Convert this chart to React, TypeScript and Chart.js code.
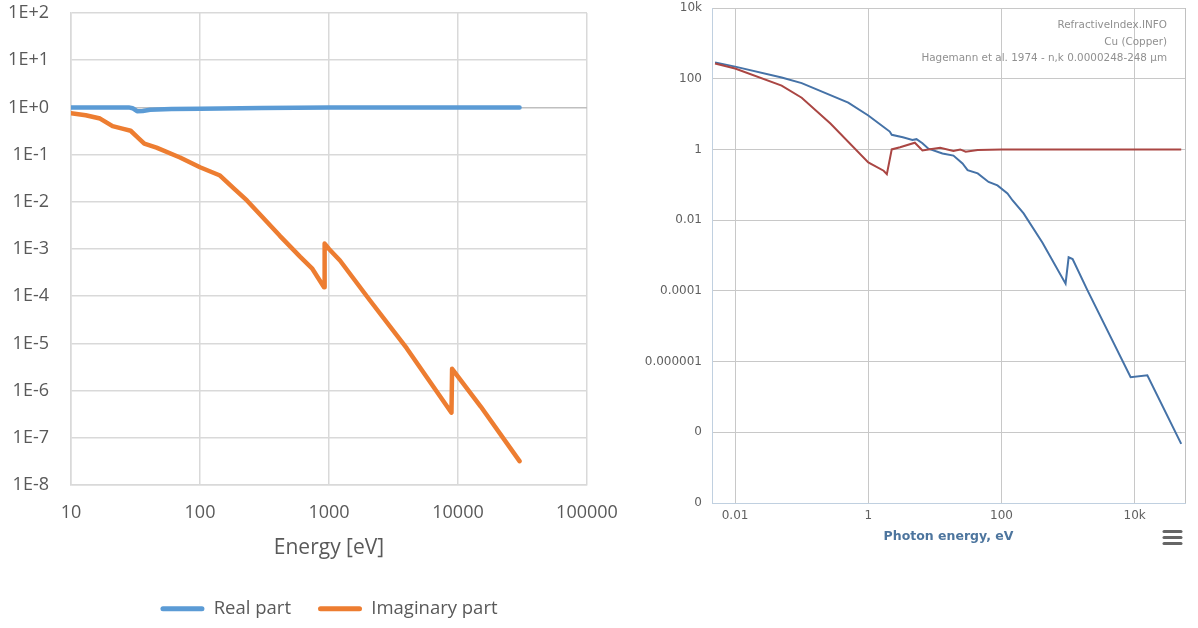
import React, { useEffect, useRef } from "react";
import { Chart, registerables } from "chart.js";

Chart.register(...registerables);

// ---------- Left chart (Excel style) ----------
const leftXTicks = [10, 100, 1000, 10000, 100000];
const leftXTickLabels = ["10", "100", "1000", "10000", "100000"];
const leftYTicks = [1e2, 1e1, 1e0, 1e-1, 1e-2, 1e-3, 1e-4, 1e-5, 1e-6, 1e-7, 1e-8];
const leftYTickLabels = ["1E+2", "1E+1", "1E+0", "1E-1", "1E-2", "1E-3", "1E-4", "1E-5", "1E-6", "1E-7", "1E-8"];

const realEnergy = [10, 20, 28, 30, 32.5, 36, 41, 60, 100, 300, 1000, 30000];
const realValues = [1.0, 1.0, 1.0, 0.96, 0.83, 0.84, 0.89, 0.92, 0.94, 0.97, 0.99, 1.0];

const imagEnergy = [10, 13, 16.8, 21, 25, 29, 33, 37, 46, 70, 100, 143, 180, 231, 292, 416, 596, 738, 915, 925, 1000, 1216, 2080, 4000, 8900, 9000, 15000, 30000];
const imagValues = [0.75, 0.68, 0.58, 0.4, 0.355, 0.32, 0.23, 0.17, 0.14, 0.087, 0.054, 0.036, 0.02, 0.0107, 5.4e-3, 1.9e-3, 6.9e-4, 3.9e-4, 1.55e-4, 1.3e-3, 1.0e-3, 5.7e-4, 8.1e-5, 7.9e-6, 3.4e-7, 2.9e-6, 4.6e-7, 3.2e-8];

// ---------- Right chart (RefractiveIndex.INFO style) ----------
const rightXTicks = [0.01, 1, 100, 10000];
const rightXTickLabels = ["0.01", "1", "100", "10k"];
const rightYTicks = [1e4, 1e2, 1, 1e-2, 1e-4, 1e-6, 1e-8, 1e-10];
const rightYTickLabels = ["10k", "100", "1", "0.01", "0.0001", "0.000001", "0", "0"];

const nEnergy = [0.005, 0.01, 0.05, 0.1, 0.27, 1, 1.7, 1.9, 2.25, 3, 5, 6.5, 8, 12, 19, 24, 29, 44, 100, 1000, 50000];
const nValues = [270, 195, 64, 29, 5.4, 0.43, 0.25, 0.2, 1.0, 1.15, 1.55, 0.93, 1.0, 1.12, 0.9, 1.0, 0.86, 0.97, 0.99, 1.0, 1.0];

const kEnergy = [0.005, 0.01, 0.05, 0.1, 0.5, 1, 1.7, 2.1, 2.25, 3.3, 4.6, 5.3, 6.5, 8, 13, 19, 26, 31, 44, 64, 87, 123, 147, 215, 413, 917, 1020, 1170, 1950, 8700, 15500, 50000];
const kValues = [290, 220, 108, 75, 21, 9.1, 4.3, 3.2, 2.6, 2.2, 1.85, 1.95, 1.5, 1.05, 0.77, 0.67, 0.4, 0.26, 0.21, 0.12, 0.096, 0.057, 0.036, 0.0155, 2.3e-3, 1.6e-4, 8.9e-4, 7.9e-4, 1.05e-4, 3.6e-7, 4.1e-7, 4.7e-9];

const creditLines = ["RefractiveIndex.INFO", "Cu (Copper)", "Hagemann et al. 1974 - n,k 0.0000248-248 \u00b5m"];

const excelFont = "'Open Sans', 'Liberation Sans', sans-serif";
const hcFont = "'DejaVu Sans', Verdana, sans-serif";

const toPoints = (xs: number[], ys: number[]) => xs.map((x, i) => ({ x, y: ys[i] }));

const zeroPad = (s: any) => {
  s.paddingTop = 0;
  s.paddingBottom = 0;
  s.paddingLeft = 0;
  s.paddingRight = 0;
};

const rightDecor = {
  id: "rightDecor",
  afterDraw(chart: any) {
    const { ctx, chartArea } = chart;
    ctx.save();
    ctx.strokeStyle = "#C0C0C0";
    ctx.lineWidth = 1;
    ctx.beginPath();
    ctx.moveTo(chartArea.right + 0.5, chartArea.top);
    ctx.lineTo(chartArea.right + 0.5, chartArea.bottom);
    ctx.stroke();

    ctx.font = "10.4px " + hcFont;
    ctx.fillStyle = "#909090";
    ctx.textAlign = "right";
    ctx.textBaseline = "middle";
    const offs = [17, 34, 50];
    creditLines.forEach((t, i) => ctx.fillText(t, chartArea.right - 18, chartArea.top + offs[i]));

    ctx.strokeStyle = "#666666";
    ctx.lineWidth = 3;
    ctx.lineCap = "round";
    [531.5, 537.5, 543.5].forEach((y) => {
      ctx.beginPath();
      ctx.moveTo(534, y);
      ctx.lineTo(551, y);
      ctx.stroke();
    });
    ctx.restore();
  },
};

export default function App() {
  const leftRef = useRef<HTMLCanvasElement>(null);
  const rightRef = useRef<HTMLCanvasElement>(null);

  useEffect(() => {
    const left = new Chart(leftRef.current as HTMLCanvasElement, {
      type: "line",
      data: {
        datasets: [
          {
            label: "Real part",
            data: toPoints(realEnergy, realValues),
            borderColor: "#5B9BD5",
            backgroundColor: "#5B9BD5",
            borderWidth: 4.5,
            pointRadius: 0,
            tension: 0,
            borderCapStyle: "round",
            borderJoinStyle: "round",
          },
          {
            label: "Imaginary part",
            data: toPoints(imagEnergy, imagValues),
            borderColor: "#ED7D31",
            backgroundColor: "#ED7D31",
            borderWidth: 4.5,
            pointRadius: 0,
            tension: 0,
            borderCapStyle: "round",
            borderJoinStyle: "round",
          },
        ],
      },
      options: {
        responsive: false,
        animation: false,
        layout: { padding: { left: 0, right: 43, top: 13, bottom: 0 } },
        plugins: {
          tooltip: { enabled: false },
          legend: {
            position: "bottom",
            fullSize: false,
            labels: {
              boxWidth: 44,
              boxHeight: 5,
              padding: 27,
              color: "#595959",
              font: { family: excelFont, size: 18.5 },
              useBorderRadius: true,
              borderRadius: 2.5,
              generateLabels: (chart: any) =>
                chart.data.datasets.map((ds: any, i: number) => ({
                  text: ds.label,
                  fillStyle: ds.borderColor,
                  strokeStyle: ds.borderColor,
                  lineWidth: 0,
                  hidden: false,
                  datasetIndex: i,
                  fontColor: "#595959",
                  borderRadius: 2.5,
                })),
            },
          },
        },
        scales: {
          x: {
            type: "logarithmic",
            min: 10,
            max: 100000,
            afterBuildTicks: (s: any) => {
              s.ticks = leftXTicks.map((v) => ({ value: v }));
            },
            afterFit: (s: any) => {
              s.height = 87.5;
              zeroPad(s);
            },
            grid: { color: "#D9D9D9", lineWidth: 1.5, drawTicks: false },
            border: { color: "#D9D9D9", width: 1.5 },
            ticks: {
              autoSkip: false,
              maxRotation: 0,
              padding: 17,
              color: "#595959",
              font: { family: excelFont, size: 18 },
              callback: (v: any) => leftXTickLabels[leftXTicks.indexOf(Number(v))],
            },
            title: {
              display: true,
              text: "Energy [eV]",
              color: "#595959",
              font: { family: excelFont, size: 21 },
              padding: { top: 0, bottom: 12 },
            },
          },
          y: {
            type: "logarithmic",
            min: 1e-8,
            max: 100,
            afterBuildTicks: (s: any) => {
              s.ticks = leftYTicks.map((v) => ({ value: v }));
            },
            afterFit: (s: any) => {
              s.width = 71;
              zeroPad(s);
            },
            grid: {
              color: (c: any) => (c.tick && c.tick.value === 1 ? "#BFBFBF" : "#D9D9D9"),
              lineWidth: 1.5,
              drawTicks: false,
            },
            border: { color: "#D9D9D9", width: 1.5 },
            ticks: {
              autoSkip: false,
              padding: 22,
              color: "#595959",
              font: { family: excelFont, size: 18 },
              callback: (v: any) => leftYTickLabels[leftYTicks.indexOf(Number(v))],
            },
          },
        },
      },
    } as any);

    const right = new Chart(rightRef.current as HTMLCanvasElement, {
      type: "line",
      data: {
        datasets: [
          {
            label: "n",
            data: toPoints(nEnergy, nValues),
            borderColor: "#AA4643",
            borderWidth: 2,
            pointRadius: 0,
            tension: 0,
          },
          {
            label: "k",
            data: toPoints(kEnergy, kValues),
            borderColor: "#4572A7",
            borderWidth: 2,
            pointRadius: 0,
            tension: 0,
          },
        ],
      },
      options: {
        responsive: false,
        animation: false,
        layout: { padding: { left: 0, right: 13, top: 8, bottom: 0 } },
        plugins: { legend: { display: false }, tooltip: { enabled: false } },
        scales: {
          x: {
            type: "logarithmic",
            min: 0.0045,
            max: 57000,
            afterBuildTicks: (s: any) => {
              s.ticks = rightXTicks.map((v) => ({ value: v }));
            },
            afterFit: (s: any) => {
              s.height = 57;
              zeroPad(s);
            },
            grid: { color: "#C8C8C8", lineWidth: 1, drawTicks: false },
            border: { color: "#C0D0E0", width: 1 },
            ticks: {
              autoSkip: false,
              maxRotation: 0,
              padding: 6,
              color: "#606060",
              font: { family: hcFont, size: 12 },
              callback: (v: any) => rightXTickLabels[rightXTicks.indexOf(Number(v))],
            },
            title: {
              display: true,
              text: "Photon energy, eV",
              color: "#4D759E",
              font: { family: hcFont, size: 12.5, weight: "bold" },
              padding: { top: 0, bottom: 16 },
            },
          },
          y: {
            type: "logarithmic",
            min: 1e-10,
            max: 1e4,
            afterBuildTicks: (s: any) => {
              s.ticks = rightYTicks.map((v) => ({ value: v }));
            },
            afterFit: (s: any) => {
              s.width = 82;
              zeroPad(s);
            },
            grid: { color: "#C8C8C8", lineWidth: 1, drawTicks: false },
            border: { color: "#C0D0E0", width: 1 },
            ticks: {
              autoSkip: false,
              padding: 10,
              color: "#606060",
              font: { family: hcFont, size: 12 },
              callback: (v: any) => rightYTickLabels[rightYTicks.indexOf(Number(v))],
            },
          },
        },
      },
      plugins: [rightDecor],
    } as any);

    return () => {
      left.destroy();
      right.destroy();
    };
  }, []);

  return (
    <div style={{ position: "absolute", left: 0, top: 0, width: 1198, height: 628, background: "#ffffff" }}>
      <canvas ref={leftRef} width={630} height={628} style={{ position: "absolute", left: 0, top: 0 }} />
      <canvas ref={rightRef} width={568} height={560} style={{ position: "absolute", left: 630, top: 0 }} />
    </div>
  );
}
